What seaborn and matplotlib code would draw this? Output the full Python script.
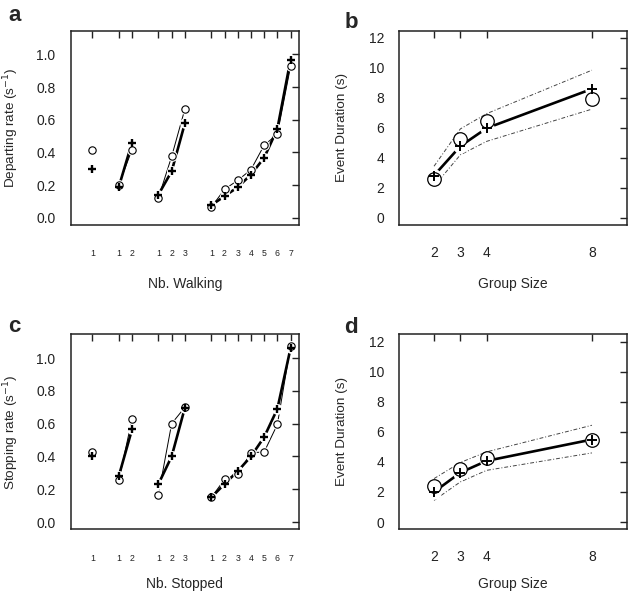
import numpy as np
import pandas as pd
import matplotlib
matplotlib.use('Agg')
import matplotlib.pyplot as plt
import seaborn as sns

# rates per group size and number already walking / stopped
group_size = [2, 3, 3, 4, 4, 4, 8, 8, 8, 8, 8, 8, 8]
nb_count = [1, 1, 2, 1, 2, 3, 1, 2, 3, 4, 5, 6, 7]

depart_obs = [0.416, 0.203, 0.416, 0.122, 0.375, 0.665, 0.065, 0.174, 0.229, 0.294, 0.444, 0.511, 0.927]
depart_model = [0.30, 0.189, 0.46, 0.142, 0.284, 0.578, 0.077, 0.132, 0.187, 0.264, 0.367, 0.544, 0.968]
stop_obs = [0.427, 0.254, 0.628, 0.167, 0.60, 0.70, 0.15, 0.26, 0.29, 0.423, 0.427, 0.595, 1.073]
stop_model = [0.40, 0.28, 0.565, 0.232, 0.40, 0.697, 0.15, 0.232, 0.31, 0.40, 0.518, 0.69, 1.061]

# event durations per group size
sizes = [2, 3, 4, 8]
dep_dur_obs = [2.6, 5.27, 6.44, 7.96]
dep_dur_model = [2.82, 4.78, 5.98, 8.6]
dep_dur_hi = [3.44, 5.93, 6.95, 9.85]
dep_dur_lo = [2.1, 4.2, 5.1, 7.25]
stop_dur_obs = [2.38, 3.56, 4.29, 5.44]
stop_dur_model = [2.0, 3.29, 4.07, 5.49]
stop_dur_hi = [2.89, 3.96, 4.67, 6.44]
stop_dur_lo = [1.44, 2.67, 3.44, 4.6]

sns.set_style('white')
plt.rcParams['font.family'] = ['Liberation Sans', 'DejaVu Sans']

# x position: one empty slot between group sizes
grp_idx = pd.Series(group_size).rank(method='dense').astype(int) - 1
rates = pd.DataFrame({'group': group_size, 'nb': nb_count,
                      'pos': np.arange(len(group_size)) + 1 + grp_idx.values,
                      'dep_obs': depart_obs, 'dep_model': depart_model,
                      'stop_obs': stop_obs, 'stop_model': stop_model})
durs = pd.DataFrame({'size': sizes, 'dep_obs': dep_dur_obs, 'dep_model': dep_dur_model,
                     'dep_hi': dep_dur_hi, 'dep_lo': dep_dur_lo,
                     'stop_obs': stop_dur_obs, 'stop_model': stop_dur_model,
                     'stop_hi': stop_dur_hi, 'stop_lo': stop_dur_lo})


def style_box(ax):
    for s in ax.spines.values():
        s.set_visible(True)
        s.set_linewidth(1.1)
        s.set_color('#222222')
    ax.tick_params(direction='in', top=True, right=True, length=5, width=1,
                   labelsize=10, colors='#222222')
    ax.tick_params(axis='y', pad=11)


def rate_panel(ax, obs, model, ylabel, xlabel, letter, ly, lx_y):
    sns.lineplot(data=rates, x='pos', y=model, units='group', estimator=None,
                 color='black', lw=1.9, ax=ax, zorder=2)
    sns.lineplot(data=rates, x='pos', y=obs, units='group', estimator=None,
                 color='black', lw=0.7, ax=ax, zorder=2)
    # white halos give the gaps of the lines around the points
    sns.scatterplot(data=rates, x='pos', y=model, s=60, color='white',
                    linewidth=0, ax=ax, zorder=3)
    sns.scatterplot(data=rates, x='pos', y=obs, s=60, color='white',
                    linewidth=0, ax=ax, zorder=3)
    sns.scatterplot(data=rates, x='pos', y=obs, marker='o', s=28, facecolor='white',
                    edgecolor='black', linewidth=0.8, ax=ax, zorder=4)
    sns.scatterplot(data=rates, x='pos', y=model, marker='+', s=28, color='black',
                    linewidth=1.7, ax=ax, zorder=5)
    ax.set_xlim(-0.64, 16.64)
    ax.set_ylim(-0.044, 1.144)
    ax.set_yticks([0.0, 0.2, 0.4, 0.6, 0.8, 1.0])
    ax.set_yticklabels(['0.0', '0.2', '0.4', '0.6', '0.8', '1.0'])
    ax.set_xticks(rates['pos'])
    ax.set_xticklabels(rates['nb'])
    style_box(ax)
    ax.tick_params(axis='x', labelsize=6.3, pad=17.5)
    ax.set_xlabel(xlabel, fontsize=10)
    ax.xaxis.set_label_coords(0.5, lx_y)
    ax.set_ylabel(ylabel, fontsize=9.7)
    ax.yaxis.set_label_coords(-0.218, 0.5)
    ax.text(-0.248, ly, letter, transform=ax.transAxes, fontsize=16,
            fontweight='bold', va='baseline', ha='center')


def dur_panel(ax, pre, letter, ly, lx_y):
    for k in ['hi', 'lo']:
        sns.lineplot(data=durs, x='size', y=pre + '_' + k, color='#444444', lw=0.7,
                     linestyle=(0, (4, 2, 1, 2)), ax=ax, zorder=2)
    sns.lineplot(data=durs, x='size', y=pre + '_model', color='black', lw=1.9,
                 ax=ax, zorder=2)
    sns.scatterplot(data=durs, x='size', y=pre + '_model', s=110, color='white',
                    linewidth=0, ax=ax, zorder=3)
    sns.scatterplot(data=durs, x='size', y=pre + '_obs', marker='o', s=95,
                    facecolor='white', edgecolor='black', linewidth=0.9, ax=ax, zorder=4)
    sns.scatterplot(data=durs, x='size', y=pre + '_model', marker='+', s=60,
                    color='black', linewidth=1.4, ax=ax, zorder=5)
    ax.set_xlim(0.68, 9.32)
    ax.set_ylim(-0.48, 12.48)
    ax.set_yticks([0, 2, 4, 6, 8, 10, 12])
    ax.set_xticks(sizes)
    style_box(ax)
    ax.tick_params(axis='x', pad=15)
    ax.set_xlabel('Group Size', fontsize=10)
    ax.xaxis.set_label_coords(0.5, lx_y)
    ax.set_ylabel('Event Duration (s)', fontsize=9.7)
    ax.yaxis.set_label_coords(-0.225, 0.5)
    ax.text(-0.212, ly, letter, transform=ax.transAxes, fontsize=16,
            fontweight='bold', va='baseline', ha='center')


fig = plt.figure(figsize=(6.33, 5.92), dpi=100)
ax_a = fig.add_axes([0.1117, 0.620, 0.3607, 0.328])
ax_b = fig.add_axes([0.6308, 0.620, 0.3592, 0.328])
ax_c = fig.add_axes([0.1117, 0.106, 0.3607, 0.329])
ax_d = fig.add_axes([0.6308, 0.106, 0.3592, 0.329])

rate_panel(ax_a, 'dep_obs', 'dep_model', 'Departing rate (s$^{-1}$)', 'Nb. Walking', 'a', 1.05, -0.27)
dur_panel(ax_b, 'dep', 'b', 1.012, -0.27)
rate_panel(ax_c, 'stop_obs', 'stop_model', 'Stopping rate (s$^{-1}$)', 'Nb. Stopped', 'c', 1.012, -0.245)
dur_panel(ax_d, 'stop', 'd', 1.008, -0.245)

fig.savefig('out.png', dpi=100)
